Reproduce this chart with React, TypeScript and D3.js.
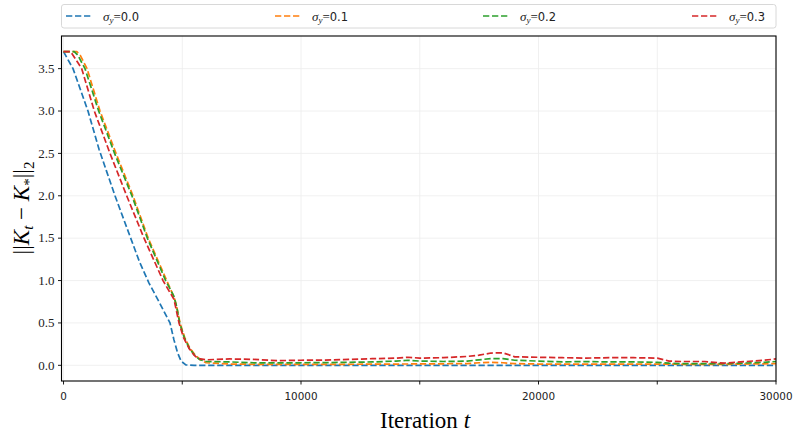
import React from "react";
import * as d3 from "d3";

const seriesLabels = ["0.0", "0.1", "0.2", "0.3"];
const seriesColors = ["#1f77b4", "#ff7f0e", "#2ca02c", "#d62728"];

const sigma00: [number, number][] = [
  [0, 3.7], [400, 3.5], [1030, 3.0], [1495, 2.55], [1800, 2.3], [2168, 2.0],
  [2829, 1.5], [3200, 1.22], [3600, 0.97], [4000, 0.76], [4484, 0.5], [4650, 0.3], [4800, 0.15],
  [4950, 0.05], [5150, 0.005], [5500, 0.0], [30000, 0.0],
];

const sigma01: [number, number][] = [
  [0, 3.7], [560, 3.7], [700, 3.66], [990, 3.5], [1537, 3.0], [2210, 2.5],
  [2926, 2.0], [3566, 1.5], [4345, 1.0], [4660, 0.8], [4760, 0.7], [4905, 0.5],
  [5100, 0.33], [5326, 0.2], [5550, 0.12], [5747, 0.07], [6000, 0.03], [7000, 0.015],
  [8000, 0.012], [10000, 0.01], [12000, 0.012], [14000, 0.015], [16000, 0.018],
  [17000, 0.02], [17500, 0.03], [18000, 0.035], [18500, 0.03], [19000, 0.02],
  [20000, 0.015], [25000, 0.015], [26000, 0.012], [28000, 0.012], [29500, 0.018],
  [30000, 0.02],
];

const sigma02: [number, number][] = [
  [0, 3.7], [450, 3.7], [600, 3.66], [905, 3.5], [1480, 3.0], [2150, 2.5],
  [2880, 2.0], [3530, 1.5], [4300, 1.0], [4640, 0.82], [4760, 0.7], [4890, 0.5],
  [5080, 0.33], [5300, 0.2], [5520, 0.12], [5720, 0.07], [6000, 0.045], [7000, 0.04],
  [8000, 0.03], [9000, 0.03], [10000, 0.03], [11000, 0.032], [12000, 0.035],
  [13000, 0.04], [14000, 0.05], [14500, 0.06], [15000, 0.05], [16000, 0.045],
  [17000, 0.05], [17500, 0.065], [18000, 0.08], [18500, 0.08], [19000, 0.06],
  [20000, 0.05], [21000, 0.04], [22000, 0.045], [23000, 0.04], [24000, 0.04],
  [25000, 0.035], [25500, 0.025], [26000, 0.02], [27000, 0.02], [27800, 0.02],
  [28500, 0.025], [29500, 0.035], [30000, 0.045],
];

const sigma03: [number, number][] = [
  [0, 3.7], [300, 3.7], [420, 3.65], [766, 3.5], [1297, 3.0], [1958, 2.5],
  [2660, 2.0], [3390, 1.5], [4190, 1.0], [4500, 0.85], [4650, 0.78], [4863, 0.5],
  [5050, 0.33], [5284, 0.2], [5500, 0.12], [5663, 0.08], [6000, 0.065], [7000, 0.075],
  [8000, 0.07], [9000, 0.055], [10000, 0.06], [11000, 0.062], [12000, 0.07],
  [13000, 0.078], [14000, 0.085], [14500, 0.095], [15000, 0.085], [16000, 0.09],
  [17000, 0.105], [17500, 0.12], [18000, 0.145], [18500, 0.148], [19000, 0.1],
  [20000, 0.095], [21000, 0.09], [22000, 0.085], [23000, 0.09], [24000, 0.09],
  [25000, 0.085], [25500, 0.05], [26000, 0.045], [27000, 0.045], [27800, 0.025],
  [28500, 0.04], [29500, 0.06], [30000, 0.075],
];

const allSeries = [sigma00, sigma01, sigma02, sigma03];

const xTicks = [0, 5000, 10000, 15000, 20000, 25000, 30000];
const xTickLabels = ["0", "", "10000", "", "20000", "", "30000"];
const yTicks = [0, 0.5, 1.0, 1.5, 2.0, 2.5, 3.0, 3.5];

const W = 797;
const H = 434;
const L = 61.5, R = 776, T = 36, B = 381;

export default function App() {
  const x = d3.scaleLinear().domain([-85, 30000]).range([L, R]);
  const y = d3.scaleLinear().domain([-0.185, 3.885]).range([B, T]);
  const line = d3
    .line<[number, number]>()
    .x((d) => x(d[0]))
    .y((d) => y(d[1]));

  const serif = "'Liberation Serif', 'Times New Roman', serif";
  const sans = "'DejaVu Sans', sans-serif";
  const lw = 1.7;
  const dash = `${3.7 * lw},${1.6 * lw}`;

  const legendX = [66, 275, 483, 692];

  return (
    <svg
      width={W}
      height={H}
      style={{ position: "absolute", left: 0, top: 0, background: "#fff" }}
    >
      <rect x={0} y={0} width={W} height={H} fill="#fff" />
      {/* grid */}
      <g stroke="#ececec" strokeWidth={0.8}>
        {xTicks.map((t) => (
          <line key={"gx" + t} x1={x(t)} x2={x(t)} y1={T} y2={B} />
        ))}
        {yTicks.map((t) => (
          <line key={"gy" + t} x1={L} x2={R} y1={y(t)} y2={y(t)} />
        ))}
      </g>
      {/* lines */}
      <g fill="none">
        {allSeries.map((s, i) => (
          <path
            key={i}
            d={line(s) || ""}
            stroke={seriesColors[i]}
            strokeWidth={lw}
            strokeDasharray={dash}
            strokeLinejoin="round"
          />
        ))}
      </g>
      {/* spines */}
      <rect x={L} y={T} width={R - L} height={B - T} fill="none" stroke="#000" strokeWidth={1.1} />
      {/* x ticks */}
      {xTicks.map((t, i) => (
        <g key={"xt" + t}>
          <line x1={x(t)} x2={x(t)} y1={B} y2={B + 3.5} stroke="#000" strokeWidth={0.9} />
          {xTickLabels[i] && (
            <text
              x={x(t)}
              y={399.5}
              textAnchor="middle"
              fontFamily={sans}
              fontSize={10.4}
              fill="#222"
            >
              {xTickLabels[i]}
            </text>
          )}
        </g>
      ))}
      {/* y ticks */}
      {yTicks.map((t) => (
        <g key={"yt" + t}>
          <line x1={L - 3.5} x2={L} y1={y(t)} y2={y(t)} stroke="#000" strokeWidth={0.9} />
          <text
            x={L - 7}
            y={y(t) + 4.3}
            textAnchor="end"
            fontFamily={serif}
            fontSize={13}
            fill="#222"
          >
            {t.toFixed(1)}
          </text>
        </g>
      ))}
      {/* x label */}
      <text x={425} y={428} textAnchor="middle" fontFamily={serif} fontSize={23} fill="#000">
        Iteration <tspan fontStyle="italic">t</tspan>
      </text>
      {/* y label */}
      <text
        transform={`translate(29,208) rotate(-90)`}
        textAnchor="middle"
        fontFamily={serif}
        fontSize={23}
        fill="#000"
      >
        ||<tspan fontStyle="italic">K</tspan>
        <tspan fontStyle="italic" fontSize={15} dy={4}>t</tspan>
        <tspan dy={-4}> − </tspan>
        <tspan fontStyle="italic">K</tspan>
        <tspan fontSize={15} dy={5}>*</tspan>
        <tspan dy={-5}>||</tspan>
        <tspan fontSize={15} dy={5}>2</tspan>
      </text>
      {/* legend */}
      <rect x={61.5} y={4.5} width={714.5} height={23.5} rx={2.5} fill="#fff" stroke="#d4d4d4" strokeWidth={0.9} />
      {seriesLabels.map((lab, i) => (
        <g key={"lg" + i}>
          <line
            x1={legendX[i]}
            x2={legendX[i] + 27}
            y1={16}
            y2={16}
            stroke={seriesColors[i]}
            strokeWidth={lw}
            strokeDasharray={dash}
          />
          <text x={legendX[i] + 37} y={20.5} fontFamily={serif} fontSize={13} fill="#222">
            <tspan fontStyle="italic">σ</tspan>
            <tspan fontStyle="italic" fontSize={9} dy={2.5}>y</tspan>
            <tspan dy={-2.5}>=</tspan>
            <tspan fontFamily={sans} fontSize={11.5}>{lab}</tspan>
          </text>
        </g>
      ))}
    </svg>
  );
}
